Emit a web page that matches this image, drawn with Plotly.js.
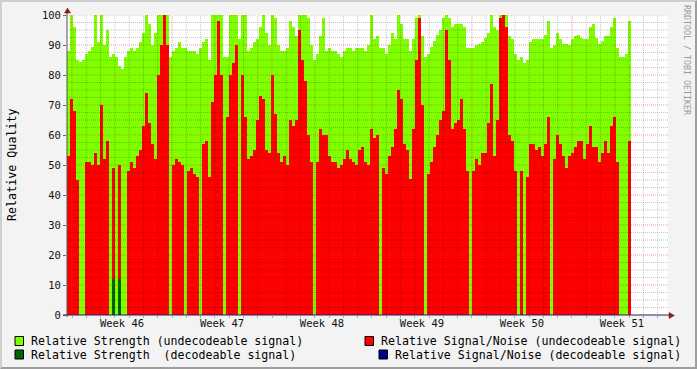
<!DOCTYPE html>
<html><head><meta charset="utf-8">
<script src="https://cdn.plot.ly/plotly-3.0.1.min.js"></script>
<style>
html,body{margin:0;padding:0;background:#f3f3f3;}
#frame{width:697px;height:369px;box-sizing:border-box;border-top:2px solid #cfcfcf;border-left:2px solid #cfcfcf;border-bottom:2px solid #9e9e9e;border-right:2px solid #9e9e9e;background:#f3f3f3;}
#chart{width:693px;height:365px;}
.fills path{shape-rendering:crispEdges;}
</style></head><body>
<div id="frame"><div id="chart"></div></div>
<script>
// ---- data (time in hours since Monday of week 46) ----
const startHour = -8.4;
const stepHours = 5.04;
const strengthUndecodeable = [
88,100,96,85,84.5,85,87,88,89.5,100,
91,100,90,95,86,87,86,83,82,86,
88,89,88,89,91,94,100,97,90,94,
100,100,100,100,86,88,89,91,
89,89,88,88,88,87,89,91,92,85,
100,100,100,100,86,86,100,100,100,92,
100,100,88,89,91,92,96,100,94,90,
100,99,90,88,88,89,98,96,
93,100,100,100,99,90,85,87,93,99,
88,89,88,88,87,86,88,89,89,88,
89,89,89,88,90,100,92,93,89,89,
87,90,94,92,100,97,92,92,
88,92,99,100,93,86,87,89.5,91.5,93.5,
95,99,100,99,96,97,97,97,96,89,
89,89,90,90.5,91,92.5,94,100,96,95,
100,100,100,93,92,87,85,86,
84,85,91,92,92,92,92,93.5,98,89,
90,94,92,90.5,90.5,90,92,93,93.5,92.5,
92,92,96,97,92.5,90.5,91.5,93,93,96,
99,89,86,86,87,98
];
const snrUndecodeable = [
53,72,68,45,0,0,51,51,50,54,
50,70,52,58,0,49,0,50,0,0,
48,51,49,53,55,63,74,64,57,52,
80,90,100,90,0,50,52,51,
50,0,48,49,47,46,0,57,58,46,
71,80,98,80,0,66,80,84,90,0,
80,66,52,53,55,65,73,72,55,54,
80,67,54,51,53,50,65,63,
65,95,85,78,60,51,0,51,62,60,
60,53,51,51,49,50,52,55,52,51,
50,55,56,51,50,62,59,60,0,49,
47,53,56,62,75,72,57,55,
45.5,62,85,99,70,0,47,51,56,60,
65,68,95,85,62,64,65,72,62,48,
0,48,52,50,54,54,64,77,53,65,
99,100,96,60,58,48,0,48,
0,46,57,57,55,56,53,57,66,0,
52,60,57,53,49,53,54,56,58,58,
52,57,63,56,56,51,54,58,54,63,
66,51,0,0,0,58
];
const decodeableBins = [15, 17];
const strengthDecodeableValues = [12, 12];
const snrDecodeableBins = [];
const snrDecodeableValues = [];
const weekTickHours = [84, 252, 420, 588, 756, 924];
const weekTickLabels = ['Week 46','Week 47','Week 48','Week 49','Week 50','Week 51'];
const yTickValues = [0,10,20,30,40,50,60,70,80,90,100];

// ---- build ----
const n = strengthUndecodeable.length;
const binLeft = i => startHour + stepHours * i;
// step-area: left edge of each bin plus the closing right edge
const edges = strengthUndecodeable.map((_, i) => binLeft(i)).concat([binLeft(n)]);
const stepArea = (vals, color, name) => ({
  type: 'scatter', mode: 'lines', x: edges, y: vals.concat([vals[vals.length - 1]]),
  line: {shape: 'hv', width: 0, color: color}, fill: 'tozeroy', fillcolor: color,
  name: name, hoverinfo: 'skip', showlegend: false
});
// sparse series -> full series with zero height where the signal is absent
const fullFromSparse = (bins, vals) => {
  const a = strengthUndecodeable.map(() => 0);
  bins.forEach((b, j) => { a[b] = vals[j]; });
  return a;
};
const traces = [
  stepArea(strengthUndecodeable, '#80ff00', 'Relative Strength (undecodeable signal)'),
  stepArea(snrUndecodeable, '#ff0000', 'Relative Signal/Noise (undecodeable signal)'),
  stepArea(fullFromSparse(decodeableBins, strengthDecodeableValues), '#006600', 'Relative Strength (decodeable signal)'),
  stepArea(fullFromSparse(snrDecodeableBins, snrDecodeableValues), '#000090', 'Relative Signal/Noise (decodeable signal)')
];

const PL = 65, PT = 13, PW = 601, PH = 300, OFF = 2;
const px = X => (X - OFF - PL) / PW;
const py = Y => 1 - (Y - OFF - PT) / PH;
const xMin = -8.4, xMax = 1001.3;

const shapes = [];
const minorCol = 'rgba(0,0,0,0.22)', majorCol = 'rgba(210,40,40,0.45)';
for (let h = 0; h <= xMax; h += 24) {
  const major = (h % 168 === 0);
  shapes.push({type:'line', xref:'x', yref:'paper', x0:h, x1:h, y0:0, y1:1, layer:'above',
    line:{color: major ? majorCol : minorCol, width:1, dash:'1px,1px'}});
}
for (let v = 2.5; v <= 100; v += 2.5) {
  const major = (Math.abs(v % 10) < 1e-6);
  shapes.push({type:'line', xref:'paper', yref:'y', x0:0, x1:1, y0:v, y1:v, layer:'above',
    line:{color: major ? majorCol : minorCol, width:1, dash:'1px,1px'}});
}
// axes lines
shapes.push({type:'line', xref:'paper', yref:'paper', x0:0, x1:0, y0:py(317), y1:py(10), layer:'above', line:{color:'#555555', width:1}});
shapes.push({type:'line', xref:'paper', yref:'paper', x0:px(63), x1:px(671), y0:0, y1:0, layer:'above', line:{color:'#23235a', width:1}});
// arrows
const arrowCol = '#8b1a1a';
shapes.push({type:'path', xref:'paper', yref:'paper', layer:'above', fillcolor:arrowCol, line:{color:arrowCol, width:0.5},
  path:`M ${px(64.5)},${py(13)} L ${px(67.5)},${py(8)} L ${px(70.5)},${py(13)} Z`});
shapes.push({type:'path', xref:'paper', yref:'paper', layer:'above', fillcolor:arrowCol, line:{color:arrowCol, width:0.5},
  path:`M ${px(669)},${py(312.5)} L ${px(674.5)},${py(315.5)} L ${px(669)},${py(318.5)} Z`});

// legend
const legendFont = {family:'DejaVu Sans Mono', size:11.6, color:'#000000'};
const legendItems = [
  {sx:15, tx:30, y:341, color:'#80ff00', text:'Relative Strength (undecodeable signal)'},
  {sx:15, tx:30, y:354.5, color:'#006600', text:'Relative Strength \u00a0(decodeable signal)'},
  {sx:365, tx:380, y:341, color:'#ff0000', text:'Relative Signal/Noise (undecodeable signal)'},
  {sx:379, tx:394, y:354.5, color:'#000090', text:'Relative Signal/Noise (decodeable signal)'}
];
const annotations = [];
legendItems.forEach(it => {
  shapes.push({type:'rect', xref:'paper', yref:'paper', x0:px(it.sx), x1:px(it.sx+8.5), y0:py(it.y+4.5), y1:py(it.y-4.5),
    fillcolor: it.color, line:{color:'#000000', width:1}, layer:'above'});
  annotations.push({xref:'paper', yref:'paper', x:px(it.tx - 1.5), y:py(it.y), xanchor:'left', yanchor:'middle',
    showarrow:false, text: it.text, font: legendFont});
});
annotations.push({xref:'paper', yref:'paper', x:px(12), y:py(165), xanchor:'center', yanchor:'middle', textangle:-90,
  showarrow:false, text:'Relative Quality', font:{family:'DejaVu Sans Mono', size:11.7, color:'#000000'}});
annotations.push({xref:'paper', yref:'paper', x:px(687), y:py(60), xanchor:'center', yanchor:'middle', textangle:90,
  showarrow:false, text:'RRDTOOL / TOBI OETIKER', font:{family:'DejaVu Sans Mono', size:8.3, color:'#9a9a9a'}});

const tickFont = {family:'DejaVu Sans Mono', size:10.5, color:'#111111'};
const layout = {
  width:693, height:365,
  margin:{l:PL, r:693-PL-PW, t:PT, b:365-PT-PH, pad:0},
  paper_bgcolor:'#f3f3f3', plot_bgcolor:'#ffffff',
  showlegend:false,
  xaxis:{type:'linear', range:[xMin, xMax], showgrid:false, zeroline:false, showline:false,
    tickmode:'array', tickvals:weekTickHours, ticktext:weekTickLabels, ticks:'', tickfont:tickFont,
    minor:{tick0:0, dtick:24, ticks:'outside', ticklen:2, tickcolor:'#aaaaaa', showgrid:false}},
  yaxis:{range:[0,100], showgrid:false, zeroline:false, showline:false,
    tickmode:'array', tickvals:yTickValues, ticks:'outside', ticklen:3, tickcolor:'#666666', tickfont:tickFont},
  shapes:shapes, annotations:annotations
};
Plotly.newPlot('chart', traces, layout, {staticPlot:true, displayModeBar:false});
</script>
</body></html>
